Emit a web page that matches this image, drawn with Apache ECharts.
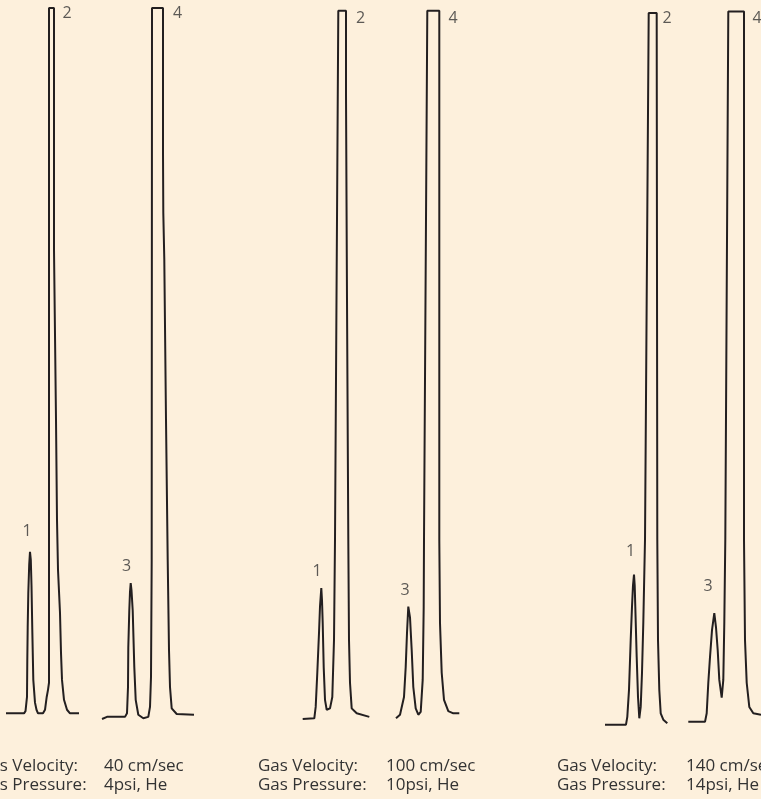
<!DOCTYPE html>
<html>
<head>
<meta charset="utf-8">
<script src="https://cdn.jsdelivr.net/npm/echarts@6/dist/echarts.min.js"></script>
<style>
html,body{margin:0;padding:0;background:#fdf0dc;}
#chart{width:761px;height:799px;}
</style>
</head>
<body>
<div id="chart"></div>
<script>
// Detector response (0-100, 100 = recorder full scale) vs. time (arbitrary units)
// Panel 1: 40 cm/sec
var run1PeaksA = [[6,0.8],[24,0.8],[25.5,1.1],[27,3.1],[27.3,8.3],[27.7,12.9],[28.3,17.7],[29.2,21.7],[30,23.5],[30.8,22.4],[31.5,18.8],[32.3,12.5],[33.3,5.5],[35,2.3],[36.5,1.3],[38,0.8],[40,0.7],[43,0.8],[45,1.3],[46.7,3.1],[48,4.1],[49,5.1],[49,100],[54,100],[54,66.0],[56,42.1],[57,28.0],[58,21.0],[60,14.9],[61,9.3],[62,5.5],[64,2.7],[67,1.3],[70,0.8],[79,0.8]];
var run1PeaksB = [[102,0],[107,0.3],[125,0.3],[127,0.8],[128,4.5],[128.3,10.1],[129.3,15.3],[130,17.9],[130.7,19.1],[131.5,18.1],[132.7,15.3],[134.3,7.3],[135.7,2.7],[138.3,0.6],[143.3,0.1],[148.3,0.3],[150,1.7],[151,5.9],[151.7,22.4],[152,100],[163,100],[163,79.6],[163.3,71.2],[164.3,64.6],[166,42.1],[167.7,22.4],[169,9.7],[170,4.5],[171.7,1.5],[176.7,0.7],[194,0.6]];
// Panel 2: 100 cm/sec
var run2PeaksA = [[302.7,0],[314.3,0.1],[315.7,1.7],[317.3,6.5],[319,12.1],[320,15.8],[321.3,18.4],[322,16.7],[322.7,13.5],[323.7,7.3],[325,2.7],[326.7,1.3],[328,1.1],[330,1.5],[332.3,3.1],[334,11.1],[335,25.2],[338.3,99.6],[346,99.6],[346,87.8],[347,58.9],[348.3,25.2],[349,11.1],[350,5.1],[351.7,1.5],[356.7,0.8],[369.3,0.3]];
var run2PeaksB = [[396,0.1],[400,0.6],[404,3.1],[405.7,7.3],[407,12.1],[408.3,15.8],[408.8,15.9],[410,14.3],[411.7,9.7],[413.3,4.5],[415.7,1.5],[418.3,0.6],[420.7,1.0],[422.7,5.5],[423.7,15.8],[424,25.2],[427.3,99.6],[439.3,99.6],[439.3,25.2],[440,13.5],[441.7,6.5],[444,2.7],[448.3,1.1],[453.3,0.8],[459.3,0.8]];
// Panel 3: 140 cm/sec
var run3PeaksA = [[605,-0.8],[626,-0.8],[627.3,0.3],[629,4.1],[630.7,11.1],[632,15.8],[633,18.8],[634,20.3],[634.7,18.8],[635.3,15.8],[636.7,8.7],[638,3.1],[639.3,0.1],[640.7,1.7],[642,6.5],[643.3,13.5],[645,25.2],[648.7,99.3],[656.7,99.3],[657.3,25.2],[658,11.1],[659.3,4.1],[660.7,0.8],[663.3,-0.1],[667.3,-0.6]];
var run3PeaksB = [[688.3,-0.4],[705,-0.4],[706.7,0.8],[708.3,5.1],[710,8.7],[712,12.5],[714.3,14.9],[716,12.9],[717.7,9.7],[719.3,5.5],[721.7,3.0],[723.3,5.5],[724.3,13.5],[725.3,25.2],[728.3,99.5],[744,99.5],[744,25.2],[745,11.1],[746.7,5.1],[749.3,1.7],[753.3,0.8],[761,0.6]];

var peakNames = ['1','2','3','4','1','2','3','4','1','2','3','4'];
var peakLabelPos = [[27,26.4],[67,99.3],[126.5,21.4],[177.5,99.3],[317,20.7],[360.5,98.6],[405,18.1],[453,98.6],[630.5,23.6],[667,98.5],[708,18.6],[757,98.6]];

var conditionLabels = ['Gas Velocity:','Gas Pressure:'];
var velocities = ['40 cm/sec','100 cm/sec','140 cm/sec'];
var pressures = ['4psi, He','10psi, He','14psi, He'];

var traces = [run1PeaksA, run1PeaksB, run2PeaksA, run2PeaksB, run3PeaksA, run3PeaksB];
var lineColor = '#231f20';
var textColor = '#333333';
var font = '"Open Sans", "Noto Sans", sans-serif';

var series = traces.map(function(d){
  return {type:'line', data:d, showSymbol:false, symbol:'none', clip:false,
    lineStyle:{color:lineColor, width:2}, silent:true, animation:false};
});
series.push({
  type:'scatter', symbolSize:0, clip:false, silent:true,
  data: peakLabelPos.map(function(p,i){return {name:peakNames[i], value:p};}),
  label:{show:true, position:'inside', formatter:'{b}', color:textColor, fontSize:16, fontFamily:font}
});

var panelLabelX = [-22, 258, 557];
var panelValueX = [104, 386, 686];
var graphics = [];
var tfont = '17px ' + font;
for (var i=0;i<3;i++){
  graphics.push({type:'text', x:panelLabelX[i], y:766, style:{text:conditionLabels[0], fill:textColor, font:tfont, textVerticalAlign:'middle'}});
  graphics.push({type:'text', x:panelLabelX[i], y:785, style:{text:conditionLabels[1], fill:textColor, font:tfont, textVerticalAlign:'middle'}});
  graphics.push({type:'text', x:panelValueX[i], y:766, style:{text:velocities[i], fill:textColor, font:tfont, textVerticalAlign:'middle'}});
  graphics.push({type:'text', x:panelValueX[i], y:785, style:{text:pressures[i], fill:textColor, font:tfont, textVerticalAlign:'middle'}});
}

var chart = echarts.init(document.getElementById('chart'), null, {renderer:'canvas'});
chart.setOption({
  backgroundColor:'#fdf0dc',
  animation:false,
  grid:{left:0, right:0, top:8, bottom:80, containLabel:false},
  xAxis:{type:'value', min:0, max:761, show:false},
  yAxis:{type:'value', min:0, max:100, show:false},
  series:series,
  graphic:graphics
});
</script>
</body>
</html>
